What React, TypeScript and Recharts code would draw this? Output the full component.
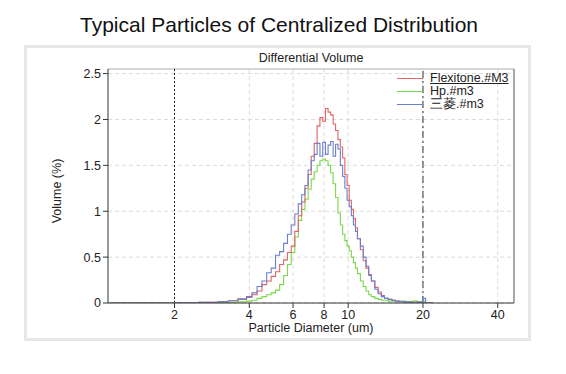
import React from "react";
import { LineChart, Line, XAxis, YAxis, CartesianGrid, ReferenceLine } from "recharts";

const diameters = [1.1, 1.5, 2.0, 2.5, 3.0, 3.3, 3.6, 3.9, 4.1, 4.3, 4.5, 4.7, 4.9, 5.1, 5.3, 5.5, 5.7, 5.9, 6.1, 6.3, 6.5, 6.7, 6.9, 7.1, 7.3, 7.5, 7.7, 7.9, 8.1, 8.3, 8.5, 8.7, 8.9, 9.1, 9.3, 9.5, 9.7, 9.9, 10.1, 10.3, 10.5, 10.7, 10.9, 11.2, 11.5, 11.8, 12.1, 12.4, 12.8, 13.2, 13.6, 14.0, 14.5, 15.0, 15.5, 16.0, 17.0, 18.0, 19.0, 20.0, 20.5, 22.0];

const flexitone = [0, 0, 0.003, 0.008, 0.015, 0.025, 0.04, 0.06, 0.09, 0.13, 0.2, 0.24, 0.29, 0.34, 0.42, 0.47, 0.55, 0.62, 0.78, 0.95, 1.1, 1.25, 1.4, 1.6, 1.74, 1.93, 2.02, 1.98, 2.12, 2.08, 2.05, 1.95, 1.88, 1.78, 1.7, 1.58, 1.4, 1.28, 1.12, 1.02, 0.92, 0.82, 0.7, 0.58, 0.46, 0.38, 0.31, 0.24, 0.17, 0.12, 0.08, 0.05, 0.04, 0.03, 0.02, 0.015, 0.01, 0.008, 0.005, 0.003, 0, 0];

const hp = [0, 0, 0, 0.002, 0.005, 0.008, 0.012, 0.02, 0.03, 0.05, 0.07, 0.09, 0.11, 0.14, 0.2, 0.3, 0.42, 0.55, 0.72, 0.9, 1.02, 1.13, 1.24, 1.35, 1.43, 1.5, 1.55, 1.57, 1.55, 1.5, 1.42, 1.3, 1.15, 0.98, 0.85, 0.75, 0.68, 0.62, 0.57, 0.5, 0.44, 0.38, 0.32, 0.24, 0.18, 0.13, 0.09, 0.07, 0.05, 0.04, 0.03, 0.03, 0.02, 0.02, 0.015, 0.02, 0.015, 0.02, 0.015, 0.02, 0, 0];

const mitsubishi = [0, 0, 0.003, 0.008, 0.015, 0.025, 0.045, 0.07, 0.11, 0.18, 0.24, 0.33, 0.38, 0.52, 0.56, 0.65, 0.75, 0.85, 0.97, 1.08, 1.18, 1.28, 1.45, 1.55, 1.62, 1.74, 1.6, 1.75, 1.62, 1.72, 1.76, 1.6, 1.73, 1.68, 1.5, 1.38, 1.25, 1.12, 1.05, 0.95, 0.85, 0.78, 0.7, 0.62, 0.5, 0.4, 0.3, 0.24, 0.15, 0.1, 0.07, 0.05, 0.04, 0.03, 0.02, 0.015, 0.01, 0.008, 0.01, 0.05, 0, 0];

const xTicks = [2, 4, 6, 8, 10, 20, 40];
const yTicks = [0, 0.5, 1, 1.5, 2, 2.5];

const seriesNames = ["Flexitone.#M3", "Hp.#m3", "三菱.#m3"];
const seriesColors = ["#e26464", "#7ad84a", "#6a80cc"];

const data = diameters.map((d, i) => ({
  d,
  flexitone: flexitone[i],
  hp: hp[i],
  mitsubishi: mitsubishi[i],
}));

const FONT = "'Liberation Sans', Arial, sans-serif";
const FS = 12.5;

export default function App() {
  return (
    <div style={{ position: "absolute", left: 0, top: 0, width: 566, height: 374, background: "#fff", fontFamily: FONT }}>
      <div style={{ position: "absolute", left: 0, top: 13, width: 558, textAlign: "center", fontSize: 21, color: "#111", whiteSpace: "nowrap" }}>
        Typical Particles of Centralized Distribution
      </div>
      <div style={{ position: "absolute", left: 24, top: 45, width: 501, height: 290, border: "3px solid #e4e8e9" }} />
      <div style={{ position: "absolute", left: 108, top: 51, width: 406, textAlign: "center", fontSize: FS, color: "#222" }}>
        Differential Volume
      </div>
      <LineChart width={566} height={374} data={data} margin={{ top: 69, right: 52, bottom: 41, left: 58 }} style={{ position: "absolute", left: 0, top: 0 }}>
        <CartesianGrid stroke="#dcdcdc" strokeDasharray="4 3" verticalValues={xTicks} horizontalValues={yTicks} />
        <XAxis
          dataKey="d"
          type="number"
          scale="log"
          domain={[1.08, 46.5]}
          allowDataOverflow
          ticks={xTicks}
          height={30}
          tickSize={5}
          stroke="#333"
          tick={{ fontSize: FS, fill: "#222", fontFamily: FONT }}
        />
        <YAxis
          type="number"
          domain={[0, 2.55]}
          allowDataOverflow
          ticks={yTicks}
          width={50}
          tickSize={5}
          stroke="#333"
          tick={{ fontSize: FS, fill: "#222", fontFamily: FONT }}
        />
        <ReferenceLine y={2.55} stroke="#aaa" />
        <ReferenceLine x={46.5} stroke="#555" />
        <ReferenceLine x={2} stroke="#222" strokeDasharray="2 2" />
        <ReferenceLine x={20} stroke="#333" strokeDasharray="7 3 2 3" />
        <Line type="stepAfter" dataKey="hp" stroke={seriesColors[1]} strokeWidth={1.1} dot={false} isAnimationActive={false} />
        <Line type="stepAfter" dataKey="flexitone" stroke={seriesColors[0]} strokeWidth={1.1} dot={false} isAnimationActive={false} />
        <Line type="stepAfter" dataKey="mitsubishi" stroke={seriesColors[2]} strokeWidth={1.1} dot={false} isAnimationActive={false} />
      </LineChart>
      <div style={{ position: "absolute", left: 57, top: 192, width: 0, height: 0 }}>
        <div style={{ position: "absolute", left: -45, top: -8, width: 90, textAlign: "center", fontSize: FS, color: "#222", transform: "rotate(-90deg)", whiteSpace: "nowrap" }}>
          Volume (%)
        </div>
      </div>
      <div style={{ position: "absolute", left: 108, top: 321, width: 406, textAlign: "center", fontSize: FS, color: "#222" }}>
        Particle Diameter (um)
      </div>
      {seriesNames.map((name, i) => (
        <React.Fragment key={name}>
          <div style={{ position: "absolute", left: 397, top: 78 + i * 13, width: 26, height: 1, background: seriesColors[i] }} />
          <div style={{ position: "absolute", left: 430, top: 71 + i * 13, fontSize: FS, lineHeight: "14px", color: "#222", textDecoration: i === 0 ? "underline" : "none", whiteSpace: "nowrap" }}>{name}</div>
        </React.Fragment>
      ))}
    </div>
  );
}
